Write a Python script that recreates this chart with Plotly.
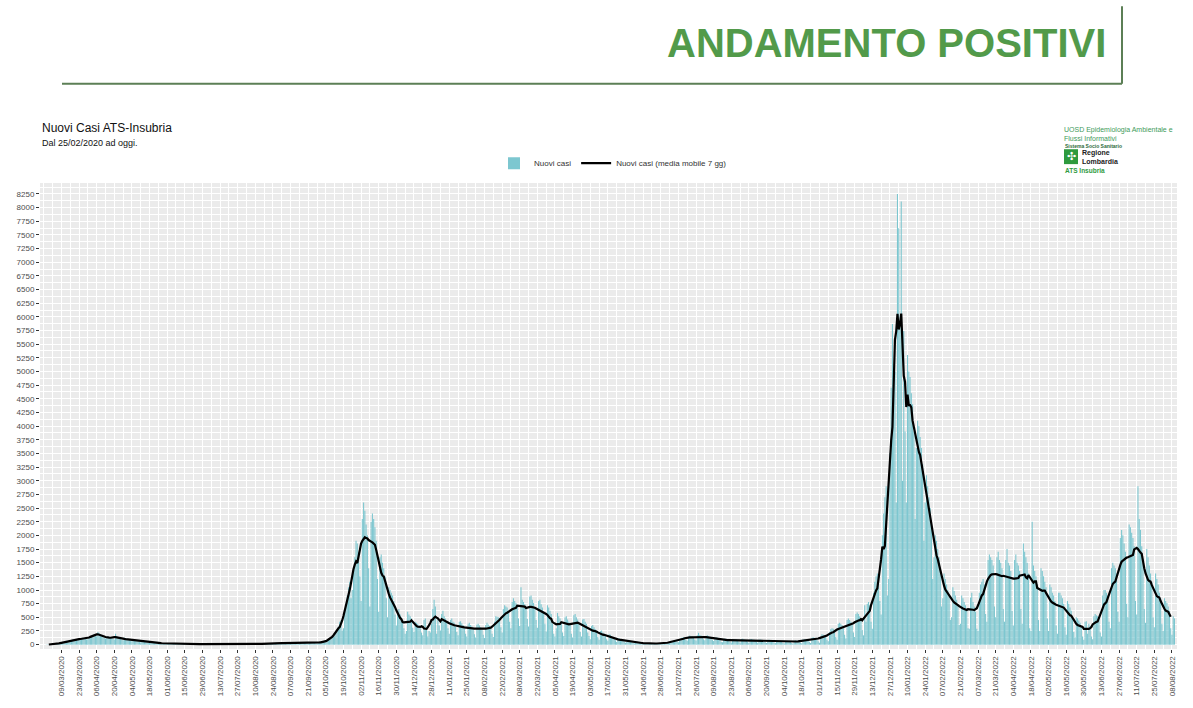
import pandas as pd
import plotly.graph_objects as go

# nuovi casi giornalieri ATS Insubria (righe = settimane mar-lun)
casi_2020 = [
    0, 1, 2, 3, 4, 3, 5,
    8, 12, 15, 22, 25, 20, 30,
    35, 45, 55, 60, 58, 45, 50,
    80, 95, 100, 105, 90, 75, 85,
    110, 120, 125, 115, 105, 95, 100,
    130, 145, 160, 175, 190, 165, 155,
    230, 210, 190, 180, 150, 120, 110,
    140, 150, 130, 120, 135, 110, 95,
    200, 160, 140, 130, 115, 90, 80,
    130, 120, 110, 95, 90, 70, 60,
    95, 90, 80, 75, 70, 55, 45,
    60, 65, 55, 50, 45, 35, 30,
    45, 42, 38, 35, 30, 25, 22,
    32, 30, 28, 25, 22, 18, 15,
    15, 22, 20, 19, 18, 14, 12,
    18, 17, 16, 15, 14, 11, 9,
    14, 15, 13, 12, 11, 9, 8,
    12, 11, 12, 10, 9, 8, 6,
    11, 12, 10, 9, 10, 7, 6,
    9, 10, 9, 8, 8, 6, 5,
    8, 9, 10, 8, 7, 6, 5,
    9, 8, 9, 10, 8, 6, 5,
    10, 12, 11, 10, 9, 8, 7,
    12, 14, 13, 12, 11, 9, 8,
    15, 17, 16, 18, 14, 12, 10,
    22, 28, 30, 27, 25, 20, 18,
    32, 35, 33, 30, 28, 22, 20,
    34, 36, 32, 30, 29, 24, 20,
    30, 33, 31, 29, 27, 22, 18,
    32, 35, 33, 31, 29, 24, 20,
    35, 38, 36, 33, 30, 25, 22,
    40, 45, 50, 48, 52, 40, 45,
    70, 85, 110, 130, 150, 140, 155,
    230, 260, 330, 420, 440, 260, 300,
    600, 750, 900, 1050, 1150, 850, 1000,
    1350, 1600, 1900, 1850, 1700, 1250, 800,
    2300, 2600, 2450, 2200, 2000, 1400, 700,
    2250, 2400, 2300, 2150, 1900, 1200, 600,
    1600, 1650, 1500, 1400, 1250, 850, 500,
    1050, 1000, 950, 900, 800, 550, 350,
    600, 650, 550, 500, 450, 300, 200,
    250, 600, 550, 520, 480, 310, 230,
    420, 400, 380, 350, 300, 220, 170,
    450, 480, 300, 150, 250, 220, 380,
    650, 820, 700,
]

casi_2021 = [
    200, 480, 350, 260,
    560, 620, 520, 480, 400, 300, 200,
    450, 480, 420, 400, 330, 230, 170,
    420, 430, 390, 360, 300, 200, 150,
    380, 400, 360, 330, 290, 190, 130,
    370, 380, 350, 320, 280, 180, 120,
    360, 400, 370, 340, 300, 200, 140,
    420, 520, 510, 500, 460, 320, 220,
    650, 720, 700, 680, 620, 420, 300,
    780, 850, 800, 760, 700, 480, 340,
    1050, 820, 780, 740, 680, 470, 330,
    880, 900, 820, 760, 680, 450, 310,
    800, 820, 740, 680, 600, 380, 240,
    720, 680, 620, 560, 380, 200, 150,
    300, 580, 520, 480, 400, 220, 160,
    500, 520, 460, 420, 360, 200, 130,
    540, 560, 500, 460, 380, 230, 150,
    460, 470, 420, 380, 220, 160, 100,
    340, 360, 320, 280, 230, 140, 90,
    250, 260, 220, 200, 160, 100, 70,
    190, 180, 160, 140, 120, 80, 50,
    120, 115, 105, 90, 80, 55, 35,
    50, 80, 70, 60, 55, 35, 25,
    50, 48, 42, 38, 32, 22, 15,
    30, 32, 28, 24, 20, 14, 10,
    26, 28, 25, 22, 20, 14, 10,
    28, 32, 35, 38, 36, 28, 25,
    50, 60, 70, 75, 72, 55, 45,
    95, 115, 130, 135, 125, 90, 70,
    150, 165, 160, 155, 140, 95, 75,
    170, 215, 175, 165, 150, 100, 80,
    160, 170, 155, 145, 125, 85, 65,
    130, 135, 125, 115, 90, 50, 45,
    95, 110, 100, 95, 85, 55, 40,
    100, 105, 98, 92, 80, 55, 38,
    102, 108, 100, 90, 80, 52, 35,
    100, 104, 96, 90, 78, 50, 34,
    90, 95, 88, 80, 70, 45, 30,
    84, 88, 80, 74, 64, 40, 28,
    70, 74, 68, 62, 55, 36, 24,
    64, 68, 62, 56, 48, 32, 22,
    72, 78, 72, 66, 56, 36, 26,
    92, 100, 95, 86, 74, 48, 32,
    125, 135, 128, 118, 100, 60, 35,
    150, 190, 180, 170, 150, 90, 60,
    230, 280, 300, 290, 260, 140, 90,
    380, 400, 380, 360, 320, 180, 110,
    450, 480, 450, 420, 370, 220, 140,
    560, 590, 560, 520, 460, 270, 170,
    720, 420, 750, 780, 720, 420, 290,
    950, 1150, 1250, 1300, 1200, 800, 550,
    2000, 2400, 2700, 2900, 900, 1200, 3500,
    4700, 5870, 5000, 5000,
]

casi_2022 = [
    2600, 8250, 7620,
    5800, 8110, 3000, 5740, 3900, 2600, 5300,
    5000, 4900, 4600, 4400, 3900, 2300, 3600,
    4100, 4000, 3800, 3600, 3300, 1900, 2600,
    3100, 2900, 2700, 2500, 2200, 1200, 1600,
    2000, 1900, 1750, 1600, 1400, 700, 850,
    1300, 1200, 1100, 1000, 900, 450, 500,
    1050, 980, 900, 820, 720, 360, 380,
    900, 850, 780, 720, 640, 300, 290,
    860, 950, 780, 700, 600, 290, 250,
    950, 1100, 1150, 1200, 1100, 560, 420,
    1550, 1650, 1600, 1550, 1450, 700, 500,
    1600, 1700, 1550, 1500, 1400, 650, 420,
    1550, 1750, 1500, 1450, 1350, 620, 350,
    1550, 1650, 1500, 1450, 1350, 650, 380,
    1850, 1700, 1600, 1500, 1300, 300, 250,
    2250, 1450, 1350, 1250, 1100, 450, 250,
    1400, 1350, 1250, 1150, 1050, 480, 250,
    1100, 1050, 950, 900, 800, 350, 200,
    950, 950, 900, 850, 750, 320, 180,
    800, 750, 680, 620, 500, 230, 130,
    500, 480, 440, 400, 330, 150, 90,
    420, 430, 200, 380, 340, 150, 100,
    520, 560, 540, 520, 460, 220, 150,
    900, 1000, 1000, 950, 900, 420, 300,
    1400, 1500, 1450, 1400, 1300, 600, 420,
    1950, 2100, 2000, 1850, 1700, 750, 500,
    2200, 2150, 2050, 1950, 1800, 800, 550,
    2900, 2300, 2100, 1800, 1500, 650, 400,
    1750, 1600, 1450, 1300, 1150, 500, 320,
    1300, 1200, 1100, 950, 850, 380, 250,
    850, 800, 760, 700, 620, 300, 180,
    520, 480,
]

if (len(casi_2020), len(casi_2021), len(casi_2022)) != (311, 365, 222):
    raise ValueError(f"lunghezze {len(casi_2020)} {len(casi_2021)} {len(casi_2022)}")

casi = pd.Series(casi_2020 + casi_2021 + casi_2022,
                 index=pd.date_range("2020-02-25", periods=898, freq="D"))
media_mobile = casi.rolling(7, center=True).mean()

# etichette asse x ogni 14 giorni
tick_date = pd.date_range("2020-03-09", "2022-08-08", freq="14D")
tick_testo = [d.strftime("%d/%m/%Y") for d in tick_date]

W, H = 1193, 708
L, R, T, B = 40, 16, 183, 56
pw, ph = W - L - R, H - T - B


def px(x):
    return (x - L) / pw


def py(y):
    return (H - B - y) / ph


verde = "#529A4A"
giorno = 86400000

fig = go.Figure()
fig.add_trace(go.Bar(x=casi.index, y=casi.values, name="Nuovi casi",
                     marker=dict(color="rgba(118,196,205,0.95)", line_width=0)))
fig.add_trace(go.Scatter(x=media_mobile.index, y=media_mobile.values, mode="lines",
                         name="Nuovi casi (media mobile 7 gg)",
                         line=dict(color="black", width=2.2)))

fig.update_layout(
    width=W, height=H,
    margin=dict(l=L, r=R, t=T, b=B),
    paper_bgcolor="white", plot_bgcolor="#EBEBEB",
    font=dict(family="Liberation Sans, Arial, sans-serif", color="#333333"),
    bargap=0.15,
    showlegend=True,
    legend=dict(orientation="h", x=px(613), y=py(163), xanchor="center", yanchor="middle",
                font=dict(size=8, color="#333333"), bgcolor="rgba(0,0,0,0)",
                itemwidth=30, tracegroupgap=0),
    xaxis=dict(type="date", range=["2020-02-21", "2022-08-12"],
               tickvals=tick_date, ticktext=tick_testo,
               tickangle=-90, tickfont=dict(size=8, color="#4D4D4D"),
               ticks="outside", ticklen=3, tickcolor="#333333",
               showgrid=True, gridcolor="white", gridwidth=1.2, zeroline=False,
               minor=dict(tick0="2020-03-02", dtick=7 * giorno, showgrid=True,
                          gridcolor="white", gridwidth=0.5, ticks="")),
    yaxis=dict(range=[-80, 8450], tick0=0, dtick=250,
               tickfont=dict(size=8, color="#4D4D4D"),
               ticks="outside", ticklen=3, tickcolor="#333333",
               showgrid=True, gridcolor="white", gridwidth=1.2, zeroline=False,
               minor=dict(dtick=125, showgrid=True, gridcolor="white", gridwidth=0.5, ticks="")),
)

fig.add_annotation(text="<b>ANDAMENTO POSITIVI</b>", xref="paper", yref="paper",
                   x=px(886), y=py(42), xanchor="center", yanchor="middle", showarrow=False,
                   font=dict(size=40, color=verde, family="Liberation Sans, Arial, sans-serif"))
fig.add_shape(type="line", xref="paper", yref="paper", x0=px(62), x1=px(1122), y0=py(83), y1=py(83),
              line=dict(color="#5C7F56", width=2))
fig.add_shape(type="line", xref="paper", yref="paper", x0=px(1122), x1=px(1122), y0=py(5), y1=py(83),
              line=dict(color="#5C7F56", width=2))

fig.add_annotation(text="Nuovi Casi ATS-Insubria", xref="paper", yref="paper",
                   x=px(40), y=py(128), xanchor="left", yanchor="middle", showarrow=False,
                   font=dict(size=12, color="#111111"))
fig.add_annotation(text="Dal 25/02/2020 ad oggi.", xref="paper", yref="paper",
                   x=px(40), y=py(143), xanchor="left", yanchor="middle", showarrow=False,
                   font=dict(size=9, color="#111111"))

# logo in alto a destra
fig.add_annotation(text="UOSD Epidemiologia Ambientale e<br>Flussi Informativi", xref="paper", yref="paper",
                   x=px(1062), y=py(134), xanchor="left", yanchor="middle", showarrow=False, align="left",
                   font=dict(size=7, color="#3E9A5A"))
fig.add_annotation(text="<b>Sistema Socio Sanitario</b>", xref="paper", yref="paper",
                   x=px(1063), y=py(146), xanchor="left", yanchor="middle", showarrow=False,
                   font=dict(size=5, color="#2E6B3A"))
fig.add_shape(type="rect", xref="paper", yref="paper", x0=px(1064), x1=px(1078), y0=py(149), y1=py(164),
              fillcolor="#2E9A3E", line_width=0)
fig.add_annotation(text="✣", xref="paper", yref="paper", x=px(1071), y=py(156.5),
                   xanchor="center", yanchor="middle", showarrow=False,
                   font=dict(size=11, color="white", family="DejaVu Sans"))
fig.add_annotation(text="<b>Regione<br>Lombardia</b>", xref="paper", yref="paper",
                   x=px(1080), y=py(156.5), xanchor="left", yanchor="middle", showarrow=False, align="left",
                   font=dict(size=7, color="#222222"))
fig.add_annotation(text="<b>ATS Insubria</b>", xref="paper", yref="paper",
                   x=px(1063), y=py(170), xanchor="left", yanchor="middle", showarrow=False,
                   font=dict(size=6.5, color="#2E9A3E"))

# niente margine del body: la figura parte dall'angolo in alto a sinistra
fig.write_html("out.html", config={"displayModeBar": False},
               post_script="document.body.style.margin='0';")
